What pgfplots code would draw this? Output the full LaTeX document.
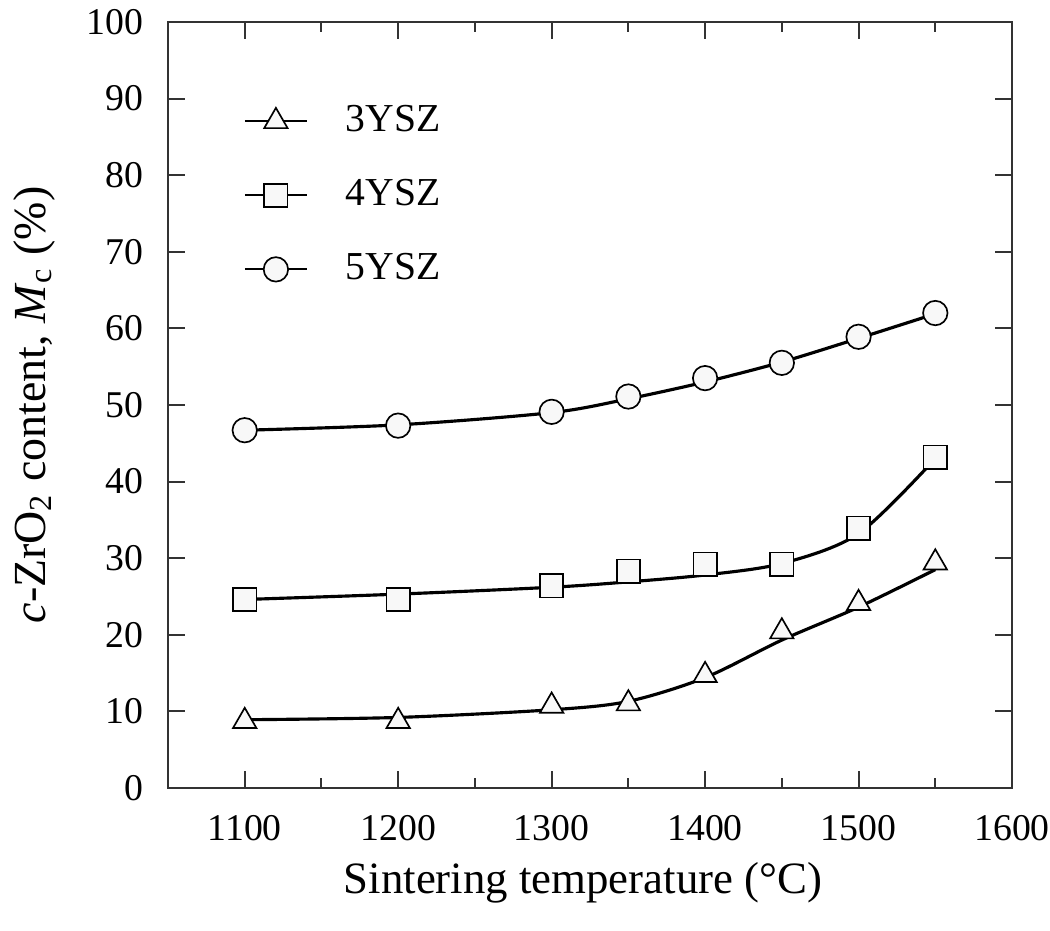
\documentclass[border=0pt]{standalone}
\usepackage{fontspec}
\setmainfont{Liberation Serif}
\usepackage{pgfplots}
\pgfplotsset{compat=1.18}
\usetikzlibrary{calc}
\definecolor{axgray}{HTML}{333333}
\definecolor{mkfill}{HTML}{F8F8F8}
\begin{document}
\begin{tikzpicture}
\begin{axis}[
  scale only axis,
  width=227.9pt, height=206.8pt,
  xmin=1050, xmax=1600, ymin=0, ymax=100,
  xtick={1100,1200,1300,1400,1500,1600},
  ytick={0,10,20,30,40,50,60,70,80,90,100},
  minor x tick num=1,
  tick align=inside,
  major tick length=4.5pt,
  minor tick length=2.7pt,
  axis line style={axgray, line width=0.55pt},
  every tick/.style={axgray, line width=0.55pt},
  /pgf/number format/assume math mode=true,
  /pgf/number format/1000 sep={},
  ticklabel style={font=\fontsize{10.2}{12}\selectfont},
  xticklabel style={inner sep=0pt, yshift=-7.3pt},
  yticklabel style={inner sep=0pt, xshift=-6.5pt},
  xlabel={Sintering temperature (°C)},
  ylabel={\textit{c}-ZrO\textsubscript{2} content, \textit{M}\textsubscript{c} (\%)},
  xlabel style={font=\fontsize{12.1}{14}\selectfont, at={($(axis description cs:0.5,0)+(-1.9pt,-28.6pt)$)}, anchor=base},
  ylabel style={font=\fontsize{12.4}{14}\selectfont, at={($(axis description cs:0,0.5)+(-33.2pt,0pt)$)}, anchor=base},
  legend style={draw=none, fill=none, at={(axis cs:1098.9,89.2)}, anchor=north west,
    inner xsep=0pt, inner ysep=0pt, row sep=11.4pt, column sep=10.2pt,
    font=\fontsize{10.7}{12}\selectfont, nodes={inner sep=0pt}},
  legend cell align=left,
  legend image code/.code={
    \draw[black, line width=0.55pt] (0pt,0pt) -- (16.8pt,0pt);
    \draw[#1] plot coordinates {(8.4pt,0pt)};
  },
]
% fitted curves
\addplot[black, line width=0.85pt, smooth, forget plot] coordinates {
(1100,8.9)(1200,9.2)(1300,10.2)(1350,11.3)(1400,14.4)(1450,19.3)(1500,23.6)(1550,28.5)};
\addplot[black, line width=0.85pt, smooth, forget plot] coordinates {
(1100,24.6)(1200,25.3)(1300,26.2)(1350,26.9)(1400,27.8)(1450,29.3)(1500,33.2)(1550,43.0)};
\addplot[black, line width=0.85pt, smooth, forget plot] coordinates {
(1100,46.7)(1200,47.4)(1300,49.0)(1350,50.8)(1400,53.0)(1450,55.6)(1500,58.7)(1550,61.9)};
% measured points
\addplot[only marks, mark=triangle*, mark size=3.64pt,
  mark options={fill=mkfill, draw=black, line width=0.45pt}] coordinates {
(1100,8.7)(1200,8.7)(1300,10.7)(1350,11.0)(1400,14.7)(1450,20.4)(1500,24.1)(1550,29.4)};
\addlegendentry{3YSZ}
\addplot[only marks, mark=square*, mark size=3.15pt,
  mark options={fill=mkfill, draw=black, line width=0.45pt}] coordinates {
(1100,24.6)(1200,24.6)(1300,26.4)(1350,28.3)(1400,29.2)(1450,29.2)(1500,33.9)(1550,43.2)};
\addlegendentry{4YSZ}
\addplot[only marks, mark=*, mark size=3.3pt,
  mark options={fill=mkfill, draw=black, line width=0.45pt}] coordinates {
(1100,46.7)(1200,47.3)(1300,49.1)(1350,51.1)(1400,53.5)(1450,55.5)(1500,58.9)(1550,62.0)};
\addlegendentry{5YSZ}
\end{axis}
\pgfresetboundingbox
\path[use as bounding box] ($(current axis.south west)+(-45.36pt,-38.61pt)$) rectangle ($(current axis.north east)+(10.26pt,5.94pt)$);
\end{tikzpicture}
\end{document}
